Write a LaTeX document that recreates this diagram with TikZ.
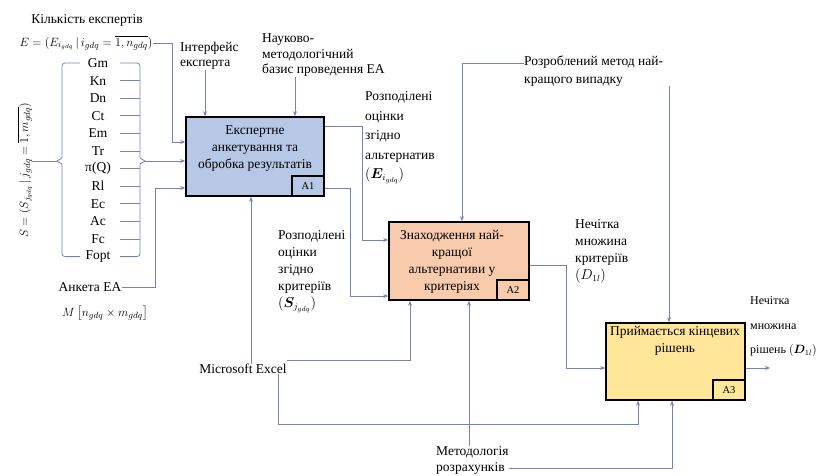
\documentclass[tikz,border=0pt]{standalone}
\usepackage{amsmath,bm}
\usepackage{fontspec}
\setmainfont{Liberation Serif}
\usetikzlibrary{arrows.meta}
\definecolor{conn}{RGB}{115,130,185}
\definecolor{fillA}{RGB}{183,199,230}
\definecolor{fillB}{RGB}{248,203,173}
\definecolor{fillC}{RGB}{255,230,153}
\tikzset{
  txt/.style={font=\fontsize{13.5}{17}\selectfont, inner sep=0pt},
  frm/.style={font=\fontsize{12.5}{15}\selectfont, inner sep=0pt},
  lbl/.style={txt, align=left},
  proc/.style={draw=black, line width=1.6pt, inner sep=0pt},
  idbox/.style={draw=black, line width=1.6pt, font=\fontsize{10.5}{12}\selectfont, inner sep=0pt, anchor=south east, minimum width=32pt, minimum height=20pt},
  ln/.style={draw=conn, line width=0.8pt},
  arr/.style={ln, -{Stealth[length=5pt,width=4pt]}},
}
\begin{document}
\begin{tikzpicture}[x=1pt,y=-1pt]
\useasboundingbox (0,0) rectangle (822,476);

% ---- process boxes
\node[proc, fill=fillA, minimum width=138pt, minimum height=79pt] (A1) at (255,156.5) {};
\node[idbox] (A1id) at (A1.south east) {A1};
\node[txt, align=center] (A1t) at (255,149) {Експертне\\анкетування та\\обробка результатів};

\node[proc, fill=fillB, minimum width=140pt, minimum height=78pt] (A2) at (459,261) {};
\node[idbox] (A2id) at (A2.south east) {A2};
\node[txt, align=center] (A2t) at (452,262) {Знаходження най-\\кращої\\альтернативи у\\критеріях};

\node[proc, fill=fillC, minimum width=139pt, minimum height=77pt] (A3) at (675.5,361.5) {};
\node[idbox] (A3id) at (A3.south east) {A3};
\node[txt, align=center] (A3t) at (675,341) {Приймається кінцевих\\рішень};

% ---- ports
\coordinate (A1i1) at ([yshift=14.5pt]A1.west);
\coordinate (A1i2) at ([yshift=-4.5pt]A1.west);
\coordinate (A1i3) at ([yshift=-31.5pt]A1.west);
\coordinate (A1n1) at ([xshift=-50pt]A1.north);
\coordinate (A1n2) at ([xshift=40pt]A1.north);
\coordinate (A1s) at ([xshift=-4pt]A1.south);
\coordinate (A1o1) at ([yshift=30.5pt]A1.east);
\coordinate (A1o2) at ([yshift=-31.5pt]A1.east);

\coordinate (A2i1) at ([yshift=21pt]A2.west);
\coordinate (A2i2) at ([yshift=-35pt]A2.west);
\coordinate (A2n) at ([xshift=3pt]A2.north);
\coordinate (A2s1) at ([xshift=-49pt]A2.south);
\coordinate (A2s2) at ([xshift=10pt]A2.south);
\coordinate (A2o) at ([yshift=-4pt]A2.east);

\coordinate (A3i) at ([yshift=-6.5pt]A3.west);
\coordinate (A3n) at ([xshift=-6.5pt]A3.north);
\coordinate (A3s1) at ([xshift=-37.5pt]A3.south);
\coordinate (A3s2) at ([xshift=-3.5pt]A3.south);
\coordinate (A3o) at ([yshift=-6.5pt]A3.east);
\coordinate (outend) at (770,368);

% ---- left side texts
\node[txt] (kilk) at (87,20) {Кількість експертів};
\node[frm] (Eform) at (86,43) {$E=(E_{i_{gdq}}\,|\,i_{gdq}=\overline{1,n_{gdq}})$};
\node[frm, rotate=90] (Sform) at (25,170) {$S=(S_{j_{gdq}}\,|\,j_{gdq}=\overline{1,m_{gdq}})$};
\foreach \t [count=\i] in {Gm,Kn,Dn,Ct,Em,Tr,π(Q),Rl,Ec,Ac,Fc,Fopt}
  \node[txt] (g\i) at (98,{63+17.6*(\i-1)}) {\t};
\node[txt] (anketa) at (90,287) {Анкета ЕА};
\node[frm] (Mform) at (105,313) {$M\left[n_{gdq}\times m_{gdq}\right]$};

\node[lbl, anchor=west, font=\fontsize{13.5}{15}\selectfont] (intf) at (180,56) {Інтерфейс\\експерта};
\node[lbl, anchor=west, font=\fontsize{13.5}{15.5}\selectfont] (nauk) at (262,55.5) {Науково-\\методологічний\\базис проведення ЕА};

\node[lbl, anchor=west, font=\fontsize{13.5}{19.5}\selectfont] (rozE) at (365,138) {Розподілені\\оцінки\\згідно\\альтернатив\\$(\bm{E}_{i_{gdq}})$};
\node[lbl, anchor=west, font=\fontsize{13.5}{17}\selectfont] (rozS) at (278,272) {Розподілені\\оцінки\\згідно\\критеріїв\\$(\bm{S}_{j_{gdq}})$};
\node[lbl, anchor=west, font=\fontsize{13.5}{17.5}\selectfont] (rozr) at (524,71) {Розроблений метод най-\\кращого випадку};
\node[lbl, anchor=west, font=\fontsize{13.5}{17}\selectfont] (nechK) at (575,251.5) {Нечітка\\множина\\критеріїв\\$(D_{1l})$};
\node[lbl, anchor=west, font=\fontsize{12}{24.5}\selectfont] (nechR) at (750,327) {Нечітка\\множина\\рішень $(\bm{D}_{1l})$};
\node[txt] (excel) at (243,369) {Microsoft Excel};
\node[lbl, anchor=west, font=\fontsize{13.5}{16}\selectfont] (metod) at (436,460) {Методологія\\розрахунків};

% ---- bracket structure
\coordinate (lineS) at (120,0);
\coordinate (brR) at (140,0);
\coordinate (brL) at (62,0);
\coordinate (lineL) at (80,0);
\coordinate (rtip) at (145,161);
\coordinate (ltip) at (57,161);
\foreach \i in {2,...,11}
  \draw[ln] (g\i -| lineS) -- (g\i -| brR);
\draw[ln, rounded corners=3pt] (g1 -| lineS) -- (g1 -| brR) -- (140,158);
\draw[ln] (140,158) -- (rtip) -- (140,164);
\draw[ln, rounded corners=3pt] (140,164) -- (g12 -| brR) -- (g12 -| lineS);
\draw[ln, rounded corners=3pt] (g1 -| lineL) -- (g1 -| brL) -- (62,158);
\draw[ln] (62,158) -- (ltip) -- (62,164);
\draw[ln, rounded corners=3pt] (62,164) -- (g12 -| brL) -- (g12 -| lineL);
\draw[ln] (Sform.south |- ltip) -- (ltip);

% ---- connectors into A1
\draw[arr] (Eform.east) -| (172,142) -- (A1i1);
\draw[arr] (rtip) -- (A1i2);
\draw[arr] (anketa.east) -| (155,188) -- (A1i3);
\draw[arr] (intf.south -| A1n1) -- (A1n1);
\draw[arr] (nauk.south -| A1n2) -- (A1n2);
\draw[arr] (excel.north -| A1s) -- (A1s);

% ---- A1 -> A2
\draw[arr] (A1o1) -| (362,240) -- (A2i1);
\draw[arr] (A1o2) -| (350,296) -- (A2i2);
\draw[arr] ([yshift=8pt]rozr.west) -| (A2n);
\draw[arr] ([yshift=9pt]excel.east) -| (A2s1);
\draw[arr] (metod.north -| A2s2) -- (A2s2);

% ---- A2 -> A3
\draw[arr] (A2o) -| (566,368) -- (A3i);
\draw[arr] (rozr.south -| A3n) -- (A3n);
\coordinate (xl) at (278,424);
\draw[arr] (excel.south -| xl) -- (xl) -| (A3s1);
\draw[arr] ([yshift=-8pt]metod.east) -| (A3s2);
\draw[arr] (A3o) -- (outend);
\end{tikzpicture}
\end{document}
